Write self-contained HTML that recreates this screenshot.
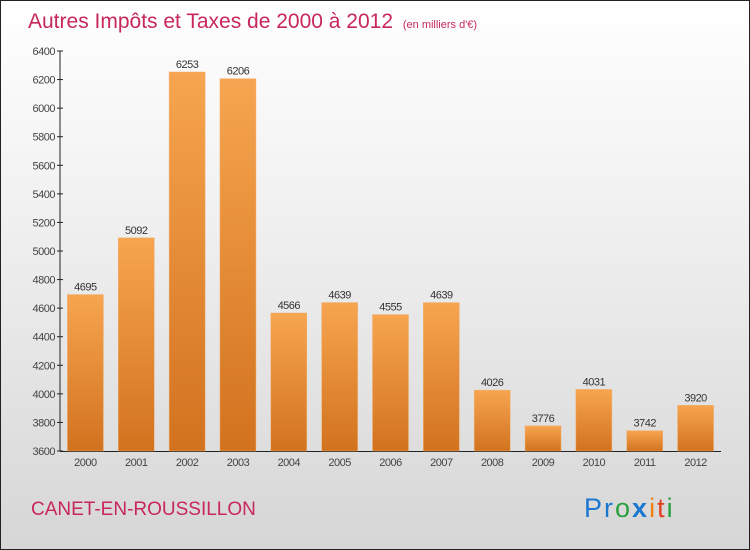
<!DOCTYPE html>
<html><head><meta charset="utf-8"><style>
body{margin:0;}
#c{position:relative;width:748px;height:548px;border:1px solid #222;background:linear-gradient(#ffffff 0%,#f0f0f0 40%,#d6d6d6 100%);overflow:hidden;font-family:"Liberation Sans",sans-serif;}
</style></head><body>
<div id="c">
<svg id="s" width="748" height="548">
<defs><linearGradient id="g" x1="0" y1="0" x2="0" y2="1"><stop offset="0" stop-color="#f7a550"/><stop offset="1" stop-color="#d2721f"/></linearGradient></defs>
<text x="27" y="27" font-size="21" fill="#c8275a">Autres Impôts et Taxes de 2000 à 2012 <tspan font-size="11" dx="4">(en milliers d'€)</tspan></text>
<text x="30" y="514" font-size="19" fill="#c8275a">CANET-EN-ROUSSILLON</text>
<text x="583" y="516" font-size="27" letter-spacing="2"><tspan fill="#1b78d0">Pr</tspan><tspan fill="#2aa040">o</tspan><tspan fill="#1b78d0" font-weight="bold">x</tspan><tspan fill="#f08010">i</tspan><tspan fill="#e04020">t</tspan><tspan fill="#2aa040">i</tspan></text>
<g id="plot"></g>
</svg>
</div>
<script>
const categories=["2000","2001","2002","2003","2004","2005","2006","2007","2008","2009","2010","2011","2012"];
const values=[4695,5092,6253,6206,4566,4639,4555,4639,4026,3776,4031,3742,3920];
const ticks=[3600,3800,4000,4200,4400,4600,4800,5000,5200,5400,5600,5800,6000,6200,6400];
const ns="http://www.w3.org/2000/svg";
const g=document.getElementById('plot');
const X0=59,X1=720,Y0=450,Y1=50,VMIN=3600,VMAX=6400;
const y=v=>Y0-(v-VMIN)/(VMAX-VMIN)*(Y0-Y1);
const bw=(X1-X0)/categories.length;
const x=i=>X0+(i+0.5)*bw;
function el(t,a,txt){const e=document.createElementNS(ns,t);for(const k in a)e.setAttribute(k,a[k]);if(txt!==undefined)e.textContent=txt;g.appendChild(e);return e;}
let ax=el('line',{x1:X0,y1:Y1,x2:X0,y2:Y0,stroke:'#222'});


let bx=el('line',{x1:X0,y1:Y0+0.5,x2:X1,y2:Y0+0.5,stroke:'#222'});


ticks.forEach(t=>{
 el('line',{x1:X0-3,y1:y(t),x2:X0+3,y2:y(t),stroke:'#222'});
 const l=el('text',{x:X0-5,y:y(t)+4,'font-size':11,fill:'#444','text-anchor':'end','letter-spacing':'-0.5'},t);
 
 
});
categories.forEach((c,i)=>{
 const r=el('rect',{x:x(i)-18,y:y(values[i]),width:36,height:Y0-y(values[i]),fill:'url(#g)',stroke:'#f0b070','stroke-width':0.5});
 
 
 const v=el('text',{x:x(i),y:y(values[i])-4,'font-size':11,fill:'#333','text-anchor':'middle','letter-spacing':'-0.5'},values[i]);
 
 
 const xl=el('text',{x:x(i),y:Y0+15,'font-size':11,fill:'#444','text-anchor':'middle','letter-spacing':'-0.5'},c);
 
 
});
</script>
</body></html>
